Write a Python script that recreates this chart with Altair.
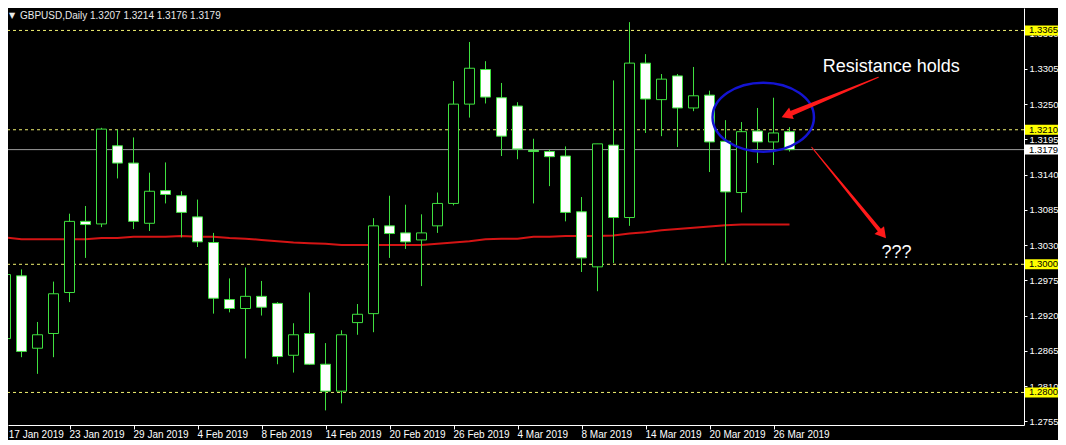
import math
import altair as alt
import pandas as pd

# ---------------- data ----------------
dates = [
    "2019-01-17", "2019-01-18", "2019-01-21", "2019-01-22", "2019-01-23", "2019-01-24", "2019-01-25",
    "2019-01-28", "2019-01-29", "2019-01-30", "2019-01-31", "2019-02-01", "2019-02-04", "2019-02-05",
    "2019-02-06", "2019-02-07", "2019-02-08", "2019-02-11", "2019-02-12", "2019-02-13", "2019-02-14",
    "2019-02-15", "2019-02-18", "2019-02-19", "2019-02-20", "2019-02-21", "2019-02-22", "2019-02-25",
    "2019-02-26", "2019-02-27", "2019-02-28", "2019-03-01", "2019-03-04", "2019-03-05", "2019-03-06",
    "2019-03-07", "2019-03-08", "2019-03-11", "2019-03-12", "2019-03-13", "2019-03-14", "2019-03-15",
    "2019-03-18", "2019-03-19", "2019-03-20", "2019-03-21", "2019-03-22", "2019-03-25", "2019-03-26",
    "2019-03-27",
]
opens = [1.2884, 1.2982, 1.2869, 1.2892, 1.2956, 1.3067, 1.3063, 1.3185, 1.3158, 1.3064,
         1.3115, 1.3107, 1.3074, 1.3034, 1.2945, 1.2931, 1.2950, 1.2939, 1.2858, 1.2892,
         1.2844, 1.2802, 1.2909, 1.2923, 1.3060, 1.3049, 1.3038, 1.3060, 1.3095, 1.3250,
         1.3304, 1.3260, 1.3247, 1.3178, 1.3176, 1.3169, 1.3082, 1.2996, 1.3186, 1.3073,
         1.3314, 1.3257, 1.3294, 1.3244, 1.3264, 1.3192, 1.3112, 1.3208, 1.3191, 1.3207]
highs = [1.3000, 1.2992, 1.2910, 1.2973, 1.3079, 1.3091, 1.3213, 1.3210, 1.3198, 1.3143,
         1.3159, 1.3114, 1.3101, 1.3049, 1.2978, 1.2995, 1.2974, 1.2941, 1.2908, 1.2956,
         1.2877, 1.2897, 1.2938, 1.3072, 1.3107, 1.3093, 1.3078, 1.3112, 1.3286, 1.3347,
         1.3317, 1.3283, 1.3253, 1.3196, 1.3179, 1.3184, 1.3105, 1.3188, 1.3287, 1.3378,
         1.3328, 1.3297, 1.3297, 1.3308, 1.3271, 1.3225, 1.3222, 1.3244, 1.3260, 1.3214]
lows = [1.2831, 1.2855, 1.2829, 1.2855, 1.2941, 1.3010, 1.3058, 1.3134, 1.3055, 1.3052,
        1.3095, 1.3042, 1.3027, 1.2923, 1.2925, 1.2853, 1.2920, 1.2844, 1.2831, 1.2843,
        1.2772, 1.2783, 1.2890, 1.2894, 1.3010, 1.3024, 1.2966, 1.3049, 1.3092, 1.3229,
        1.3251, 1.3169, 1.3164, 1.3095, 1.3122, 1.3067, 1.2988, 1.2958, 1.3002, 1.3060,
        1.3205, 1.3200, 1.3183, 1.3239, 1.3144, 1.3003, 1.3081, 1.3158, 1.3155, 1.3176]
closes = [1.2984, 1.2864, 1.2890, 1.2954, 1.3067, 1.3062, 1.3211, 1.3158, 1.3067, 1.3114,
          1.3109, 1.3081, 1.3035, 1.2947, 1.2931, 1.2950, 1.2933, 1.2856, 1.2890, 1.2844,
          1.2802, 1.2890, 1.2922, 1.3060, 1.3048, 1.3035, 1.3049, 1.3095, 1.3250, 1.3306,
          1.3261, 1.3200, 1.3180, 1.3176, 1.3168, 1.3081, 1.3010, 1.3188, 1.3073, 1.3314,
          1.3258, 1.3289, 1.3244, 1.3263, 1.3191, 1.3113, 1.3207, 1.3191, 1.3205, 1.3179]
ma_values = [1.3042, 1.3039, 1.3039, 1.3039, 1.3039, 1.3039, 1.3041, 1.3041, 1.3043, 1.3043,
             1.3043, 1.3044, 1.3043, 1.3043, 1.3041, 1.3040, 1.3038, 1.3036, 1.3034, 1.3033,
             1.3032, 1.3030, 1.3030, 1.3030, 1.3030, 1.3030, 1.3030, 1.3032, 1.3034, 1.3036,
             1.3039, 1.3040, 1.3040, 1.3043, 1.3043, 1.3044, 1.3044, 1.3044, 1.3045, 1.3048,
             1.3050, 1.3053, 1.3055, 1.3057, 1.3059, 1.3061, 1.3062, 1.3062, 1.3062, 1.3062]

level_prices = [1.3365, 1.3210, 1.3000, 1.2800]
current_price = 1.3179
y_tick_values = [1.2755, 1.2810, 1.2865, 1.2920, 1.2975, 1.3030, 1.3085, 1.3140,
                 1.3195, 1.3250, 1.3305, 1.3360]
date_tick_index = [0, 4, 8, 12, 16, 20, 24, 28, 32, 36, 40, 44, 48]
date_tick_labels = ["17 Jan 2019", "23 Jan 2019", "29 Jan 2019", "4 Feb 2019", "8 Feb 2019",
                    "14 Feb 2019", "20 Feb 2019", "26 Feb 2019", "4 Mar 2019", "8 Mar 2019",
                    "14 Mar 2019", "20 Mar 2019", "26 Mar 2019"]
header_text = "GBPUSD,Daily  1.3207 1.3214 1.3176 1.3179"

# annotation anchors (bar index, price)
note_resistance = {"k": 51.08, "p": 1.33072, "text": "Resistance holds"}
note_question = {"k": 54.75, "p": 1.30176, "text": "???"}
ellipse_center = {"k": 47.36, "p": 1.32296}
arrow_defs = [
    {"aid": "a1", "tail": (54.55, 1.32919), "tip": (48.51, 1.32294), "w0": 1.0, "w1": 5.0},
    {"aid": "a2", "tail": (50.39, 1.31826), "tip": (55.03, 1.30406), "w0": 1.0, "w1": 4.0},
]

# ---------------- layout / style ----------------
W, H = 1016, 417
XDOM = [0.15625, 63.65625]
YDOM = [1.274918, 1.340003]
PXK = W / (XDOM[1] - XDOM[0])
PXP = H / (YDOM[1] - YDOM[0])
FONT = "Liberation Sans"
GREEN = "#3fe03f"
YELLOW = "#f0f070"
MA_RED = "#d41414"
ARROW_RED = "#ff1a1a"
BLUE = "#1414d2"
HALF_BODY = 5.0 / PXK

xs = alt.Scale(domain=XDOM, nice=False, zero=False)
ys = alt.Scale(domain=YDOM, nice=False, zero=False)

x_axis = alt.Axis(values=date_tick_index[1:], labels=False, ticks=True, tickSize=4,
                  tickColor="white", domainColor="white", domainWidth=1, grid=False, title=None)
y_axis = alt.Axis(orient="right", values=y_tick_values, format=".4f", labelColor="white",
                  labelFont=FONT, labelFontSize=9.5, tickColor="white", tickSize=3,
                  labelPadding=2, domainColor="white", grid=False, title=None)


def X(field):
    return alt.X(field, scale=xs, axis=x_axis)


def Y(field):
    return alt.Y(field, scale=ys, axis=y_axis)


df = pd.DataFrame({"k": list(range(len(dates))), "date": dates, "open": opens,
                   "high": highs, "low": lows, "close": closes, "ma": ma_values})
df["dir"] = ["up" if c > o else "down" for o, c in zip(df["open"], df["close"])]
df["x1"] = df["k"] - HALF_BODY
df["x2"] = df["k"] + HALF_BODY
df["btop"] = df[["open", "close"]].max(axis=1)
df["bbot"] = df[["open", "close"]].min(axis=1)

base = alt.Chart(df)

wicks = base.mark_rule(color=GREEN, strokeWidth=1, clip=True).encode(
    x=X("k:Q"), y=Y("low:Q"), y2="high:Q")
bodies = base.mark_rect(stroke=GREEN, strokeWidth=1, clip=True).encode(
    x=X("x1:Q"), x2="x2:Q", y=Y("bbot:Q"), y2="btop:Q",
    fill=alt.Fill("dir:N", scale=alt.Scale(domain=["up", "down"], range=["#000000", "#ffffff"]),
                  legend=None),
)
ma_line = base.mark_line(color=MA_RED, strokeWidth=2, clip=True).encode(
    x=X("k:Q"), y=Y("ma:Q"))

lv = pd.DataFrame({"price": level_prices})
level_lines = alt.Chart(lv).mark_rule(color=YELLOW, strokeWidth=1, strokeDash=[3, 3]).encode(
    y=Y("price:Q"))

cur = pd.DataFrame({"price": [current_price]})
cur_line = alt.Chart(cur).mark_rule(color="#9c9c9c", strokeWidth=1).encode(y=Y("price:Q"))

# price boxes on the right scale
box_half = 5.0 / PXP
boxes_df = pd.DataFrame({
    "price": level_prices + [current_price],
    "bg": ["#ffff00"] * len(level_prices) + ["#ffffff"],
})
boxes_df["label"] = [f"{p:.4f}" for p in boxes_df["price"]]
boxes_df["top"] = boxes_df["price"] + box_half
boxes_df["bot"] = boxes_df["price"] - box_half
boxes = alt.Chart(boxes_df).mark_rect().encode(
    x=alt.value(W + 1), x2=alt.value(W + 34),
    y=Y("bot:Q"), y2="top:Q",
    fill=alt.Fill("bg:N", scale=None),
)
box_text = alt.Chart(boxes_df).mark_text(align="left", baseline="middle", font=FONT,
                                          fontSize=9.5, color="black").encode(
    x=alt.value(W + 5), y=Y("price:Q"), text="label:N")

# date labels (left edge at the tick)
dl = pd.DataFrame({"k": date_tick_index, "label": date_tick_labels})
dl["xl"] = [max(k, XDOM[0] + 0.05) for k in dl["k"]]
date_text = alt.Chart(dl).mark_text(align="left", baseline="alphabetic", font=FONT,
                                    fontSize=10, color="white").encode(
    x=X("xl:Q"), y=alt.value(H + 13), text="label:N")

# header
hdr = pd.DataFrame({"t": [header_text], "m": ["\u25bc"]})
header = alt.Chart(hdr).mark_text(align="left", baseline="top", font=FONT, fontSize=10,
                                  color="#e8e8e8").encode(
    x=alt.value(12), y=alt.value(3), text="t:N")
header_mark = alt.Chart(hdr).mark_text(align="left", baseline="top", font="DejaVu Sans",
                                       fontSize=8, color="#e8e8e8").encode(
    x=alt.value(1), y=alt.value(4), text="m:N")

# annotations
notes = pd.DataFrame([note_resistance, note_question])
notes_text = alt.Chart(notes).mark_text(align="left", baseline="middle", font=FONT,
                                        fontSize=18, color="white").encode(
    x=X("k:Q"), y=Y("p:Q"), text="text:N")

ELLIPSE = "M -1 0 A 1 0.68 0 1 1 1 0 A 1 0.68 0 1 1 -1 0 Z"
ell = pd.DataFrame([ellipse_center])
ellipse = alt.Chart(ell).mark_point(shape=ELLIPSE, size=(2 * 50.7) ** 2, filled=False,
                                    stroke=BLUE, strokeWidth=2.5, opacity=1).encode(
    x=X("k:Q"), y=Y("p:Q"))

HEAD_SIZE = 150
head_h = math.sqrt(3) * (math.sqrt(HEAD_SIZE) / 2) / 2
trail_rows, head_rows = [], []
for a in arrow_defs:
    (k0, p0), (k1, p1) = a["tail"], a["tip"]
    dx = (k1 - k0) * PXK
    dy = -(p1 - p0) * PXP
    L = math.hypot(dx, dy)
    ux, uy = dx / L, dy / L
    f_base = 1 - (2 * head_h - 1) / L
    f_center = 1 - head_h / L
    trail_rows.append({"aid": a["aid"], "o": 0, "k": k0, "p": p0, "w": a["w0"]})
    trail_rows.append({"aid": a["aid"], "o": 1, "k": k0 + (k1 - k0) * f_base,
                       "p": p0 + (p1 - p0) * f_base, "w": a["w1"]})
    ang = math.degrees(math.atan2(uy, ux)) % 360
    head_rows.append({"k": k0 + (k1 - k0) * f_center, "p": p0 + (p1 - p0) * f_center, "ang": ang})

arrow_shafts = alt.Chart(pd.DataFrame(trail_rows)).mark_trail(color=ARROW_RED).encode(
    x=X("k:Q"), y=Y("p:Q"),
    size=alt.Size("w:Q", scale=None, legend=None), detail="aid:N", order="o:Q")
arrow_heads = alt.Chart(pd.DataFrame(head_rows)).mark_point(
    shape="triangle-right", filled=True, color=ARROW_RED, opacity=1, size=HEAD_SIZE).encode(
    x=X("k:Q"), y=Y("p:Q"), angle=alt.Angle("ang:Q", scale=None))

chart = alt.layer(
    level_lines, cur_line, ma_line, wicks, bodies,
    ellipse, arrow_shafts, arrow_heads, notes_text,
    boxes, box_text, date_text, header, header_mark,
).properties(
    width=W, height=H, background="#000000",
    padding={"left": 0, "top": 0, "right": 34, "bottom": 15},
    autosize=alt.AutoSizeParams(type="none"),
).configure_view(stroke=None)

chart.save("out.html", embed_options={"renderer": "svg", "actions": False})
